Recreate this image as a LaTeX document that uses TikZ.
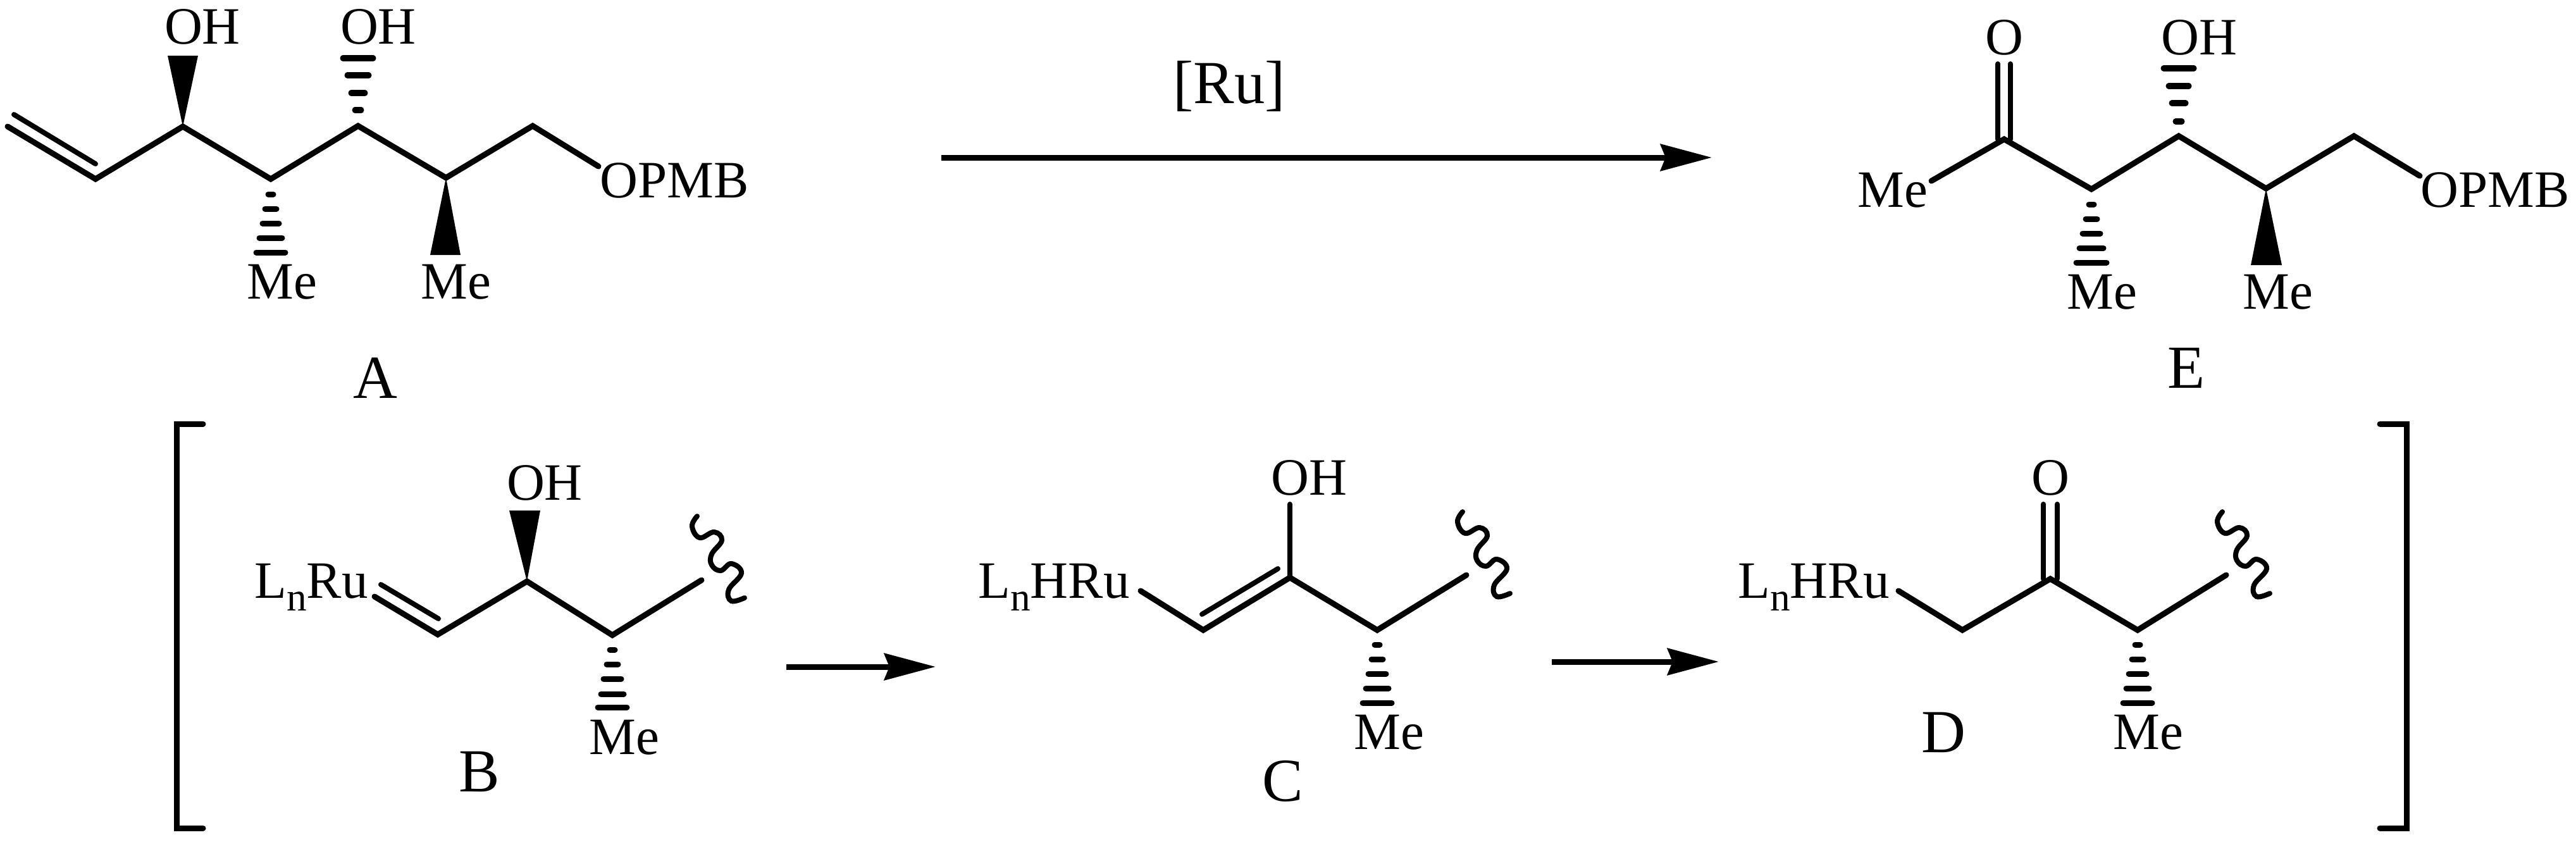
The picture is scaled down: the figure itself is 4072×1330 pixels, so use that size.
\documentclass[tikz,border=0pt]{standalone}
\usepackage{fontspec}
\setmainfont{Liberation Serif}
\usetikzlibrary{arrows.meta}
\tikzset{
  bond/.style={line width=0.09cm,line join=miter,line cap=round},
  bondtwo/.style={line width=0.08cm,line cap=round},
  bracket/.style={line width=0.09cm,line cap=round},
  wavy/.style={line width=0.08cm,line cap=round},
  hashbar/.style={line width=0.09cm,line cap=round},
  wedge/.style={fill=black},
  atomlbl/.style={anchor=base,inner sep=0pt,font=\fontsize{23.6pt}{24pt}\selectfont},
  compound/.style={anchor=base,inner sep=0pt,font=\fontsize{27.5pt}{28pt}\selectfont},
  rxnarrow/.style={line width=0.09cm,-{Stealth[length=0.81cm,width=0.42cm,inset=0.08cm]}}
}
\newcommand{\Ln}{L\raisebox{-0.25em}{\fontsize{18pt}{18pt}\selectfont n}}
\begin{document}
\begin{tikzpicture}[x=0.01cm,y=-0.01cm]
\useasboundingbox (0,0) rectangle (4072,1330);

\coordinate (a1) at (12,200);
\coordinate (a1b) at (22,181);
\coordinate (a2) at (151,283);
\coordinate (a2b) at (151,259);
\coordinate (a3) at (289,200);
\coordinate (a4) at (428,283);
\coordinate (a5) at (566,199);
\coordinate (a6) at (705,281);
\coordinate (a7) at (842,199);
\coordinate (a8) at (946,263);
\draw[bond] (a1) -- (a2) -- (a3) -- (a4) -- (a5) -- (a6) -- (a7) -- (a8);
\draw[bondtwo] (a1b) -- (a2b);
\fill[wedge] (a3) -- (265,88) -- (313,88) -- cycle;
\fill[wedge] (a6) -- (680,403) -- (728,403) -- cycle;

\draw[hashbar] (542,92) -- (590,92);
\draw[hashbar] (549,119) -- (583,119);
\draw[hashbar] (555,147) -- (577,147);
\draw[hashbar] (561,174) -- (571,174);

\draw[hashbar] (424,307) -- (432,307);
\draw[hashbar] (419,330) -- (437,330);
\draw[hashbar] (415,353) -- (441,353);
\draw[hashbar] (410,376) -- (446,376);
\draw[hashbar] (405,399) -- (451,399);

\node[atomlbl] (aoh1) at (320,70) {OH};
\node[atomlbl] (aoh2) at (598,70) {OH};
\node[atomlbl] (ame1) at (446,472) {Me};
\node[atomlbl] (ame2) at (721,472) {Me};
\node[atomlbl] (aopmb) at (1066,312) {OPMB};
\node[compound] (lbla) at (593,629) {A};

\draw[rxnarrow] (1488,249) -- (2706,249);
\node[compound] (ru) at (1943,163) {[Ru]};

\coordinate (e1) at (3053,286);
\coordinate (e2) at (3168,220);
\coordinate (e3) at (3306,299);
\coordinate (e4) at (3444,215);
\coordinate (e5) at (3582,298);
\coordinate (e6) at (3721,215);
\coordinate (e7) at (3825,278);
\coordinate (eo1) at (3158,101);
\coordinate (eo2) at (3178,101);
\coordinate (ec1) at (3158,220);
\coordinate (ec2) at (3178,220);
\draw[bond] (e1) -- (e2) -- (e3) -- (e4) -- (e5) -- (e6) -- (e7);
\draw[bondtwo] (eo1) -- (ec1);
\draw[bondtwo] (eo2) -- (ec2);
\fill[wedge] (e5) -- (3558,419) -- (3607,419) -- cycle;

\draw[hashbar] (3420,108) -- (3468,108);
\draw[hashbar] (3428,136) -- (3460,136);
\draw[hashbar] (3433,163) -- (3455,163);
\draw[hashbar] (3439,192) -- (3449,192);

\draw[hashbar] (3302,323) -- (3310,323);
\draw[hashbar] (3297,346) -- (3315,346);
\draw[hashbar] (3292,369) -- (3320,369);
\draw[hashbar] (3287,392) -- (3325,392);
\draw[hashbar] (3282,415) -- (3330,415);

\node[atomlbl] (eo) at (3168,87) {O};
\node[atomlbl] (eoh) at (3476,87) {OH};
\node[atomlbl] (eme0) at (2992,327) {Me};
\node[atomlbl] (eopmb) at (3944,327) {OPMB};
\node[atomlbl] (eme1) at (3323,488) {Me};
\node[atomlbl] (eme2) at (3601,488) {Me};
\node[compound] (lble) at (3456,613) {E};

\draw[bracket] (321,670) -- (279,670) -- (279,1309) -- (321,1309);
\draw[bracket] (3762,670) -- (3804,670) -- (3804,1309) -- (3762,1309);

\coordinate (b1) at (592,943);
\coordinate (b1b) at (602,924);
\coordinate (b2) at (692,1003);
\coordinate (b2b) at (693,978);
\coordinate (b3) at (833,919);
\coordinate (b4) at (968,1004);
\coordinate (b5) at (1109,917);
\draw[bond] (b1) -- (b2) -- (b3) -- (b4) -- (b5);
\draw[bondtwo] (b1b) -- (b2b);
\fill[wedge] (b3) -- (805,807) -- (854,807) -- cycle;
\draw[wavy,shift={(1102,816)}] plot[smooth,tension=0.7] coordinates {(0,0) (-8,16) (4,34) (27,25) (39,38) (23,60) (23,77) (37,86) (54,75) (70,90) (50,116) (54,134) (75,129)};

\draw[hashbar] (964,1027) -- (972,1027);
\draw[hashbar] (959,1050) -- (977,1050);
\draw[hashbar] (954,1073) -- (982,1073);
\draw[hashbar] (950,1097) -- (986,1097);
\draw[hashbar] (945,1118) -- (991,1118);

\node[atomlbl] (boh) at (861,790) {OH};
\node[atomlbl] (bme) at (987,1192) {Me};
\node[atomlbl] (bru) at (492,945) {\Ln Ru};
\node[compound] (lblb) at (758,1251) {B};

\draw[rxnarrow] (1243,1054) -- (1479,1054);

\coordinate (c1) at (1803,934);
\coordinate (c2) at (1902,996);
\coordinate (c3) at (2039,913);
\coordinate (c4) at (2177,996);
\coordinate (c5) at (2318,909);
\coordinate (c2b) at (1900,971);
\coordinate (c3b) at (2020,899);
\coordinate (coh) at (2039,797);
\draw[bond] (c1) -- (c2) -- (c3) -- (c4) -- (c5);
\draw[bondtwo] (c2b) -- (c3b);
\draw[bondtwo] (c3) -- (coh);
\draw[wavy,shift={(2312,809)}] plot[smooth,tension=0.7] coordinates {(0,0) (-8,16) (4,34) (27,25) (39,38) (23,60) (23,77) (37,86) (54,75) (70,90) (50,116) (54,134) (75,129)};

\draw[hashbar] (2173,1019) -- (2181,1019);
\draw[hashbar] (2168,1042) -- (2186,1042);
\draw[hashbar] (2163,1065) -- (2191,1065);
\draw[hashbar] (2159,1088) -- (2195,1088);
\draw[hashbar] (2154,1111) -- (2200,1111);

\node[atomlbl] (coh2) at (2069,782) {OH};
\node[atomlbl] (cme) at (2196,1184) {Me};
\node[atomlbl] (cru) at (1666,945) {\Ln HRu};
\node[compound] (lblc) at (2028,1266) {C};

\draw[rxnarrow] (2453,1046) -- (2717,1046);

\coordinate (d1) at (3001,934);
\coordinate (d2) at (3102,996);
\coordinate (d3) at (3241,915);
\coordinate (d4) at (3379,996);
\coordinate (d5) at (3519,909);
\coordinate (do1) at (3230,797);
\coordinate (do2) at (3252,797);
\coordinate (dc1) at (3230,915);
\coordinate (dc2) at (3252,915);
\draw[bond] (d1) -- (d2) -- (d3) -- (d4) -- (d5);
\draw[bondtwo] (do1) -- (dc1);
\draw[bondtwo] (do2) -- (dc2);
\draw[wavy,shift={(3513,809)}] plot[smooth,tension=0.7] coordinates {(0,0) (-8,16) (4,34) (27,25) (39,38) (23,60) (23,77) (37,86) (54,75) (70,90) (50,116) (54,134) (75,129)};

\draw[hashbar] (3375,1019) -- (3383,1019);
\draw[hashbar] (3370,1042) -- (3388,1042);
\draw[hashbar] (3365,1065) -- (3393,1065);
\draw[hashbar] (3361,1088) -- (3397,1088);
\draw[hashbar] (3356,1111) -- (3402,1111);

\node[atomlbl] (dox) at (3241,782) {O};
\node[atomlbl] (dme) at (3396,1184) {Me};
\node[atomlbl] (dru) at (2867,945) {\Ln HRu};
\node[compound] (lbld) at (3072,1189) {D};
\end{tikzpicture}
\end{document}
